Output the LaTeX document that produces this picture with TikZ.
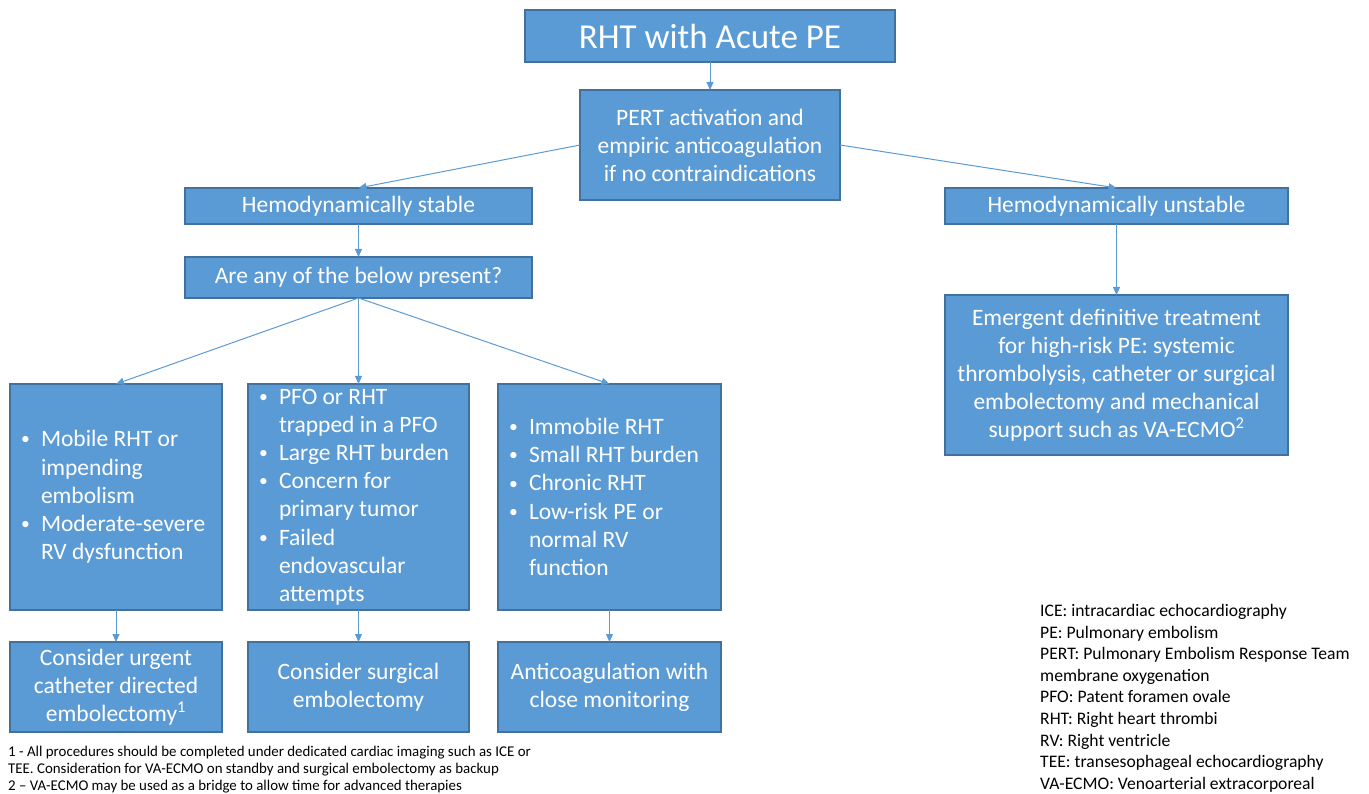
\documentclass[tikz,border=0pt]{standalone}
\usepackage{fontspec}
\setmainfont{Carlito}
\usepackage{tikz}
\usetikzlibrary{arrows.meta,positioning}
\definecolor{boxblue}{HTML}{5B9BD5}
\definecolor{boxedge}{HTML}{41719C}
\definecolor{darktext}{HTML}{000000}
\setlength{\parskip}{0pt}
% one bullet item with hanging indent
\newcommand{\bul}[1]{\spaceskip=0pt\relax\hangindent=20pt\hangafter=1\noindent
  \hbox to 20pt{\raisebox{0.08em}{\scalebox{0.75}{\textbullet}}\hfil}#1\par}
\tikzset{
  box/.style={draw=boxedge, fill=boxblue, line width=1.3pt, text=white,
              align=center, inner sep=3pt, outer sep=0pt,
              font=\fontsize{23.5}{28}\selectfont},
  titlebox/.style={box, minimum width=370pt, minimum height=52pt,
                   font=\fontsize{35}{40}\selectfont},
  wide/.style={box, minimum width=347pt, minimum height=#1},
  listbox/.style={box, align=flush left, text width=#1, inner xsep=11pt,
                  minimum height=226pt, font=\fontsize{23.5}{28.2}\selectfont},
  endbox/.style={box, minimum width=#1, minimum height=90pt},
  arrow/.style={-{Triangle[length=8pt,width=7pt]}, line width=1pt, draw=boxblue},
  notes/.style={align=left, inner sep=0pt, text=darktext}
}
\begin{document}
\begin{tikzpicture}[x=1pt, y=1pt]
  \useasboundingbox (0,0) rectangle (1369,-794);

  \node[titlebox] (top) at (710,-36) {RHT with Acute PE};
  \node[box, below=28pt of top, minimum width=260pt, minimum height=110pt] (pert)
       {PERT activation and\\empiric anticoagulation\\if no contraindications};

  \node[wide=36pt, below left=-12pt and 48pt of pert] (stable) {Hemodynamically stable};
  \node[box, minimum width=343pt, minimum height=36pt,
        below right=-12pt and 105pt of pert] (unstable) {Hemodynamically unstable};

  \node[wide=41pt, below=33pt of stable] (ask) {Are any of the below present?};
  \node[box, minimum width=343pt, minimum height=160pt, below=71pt of unstable] (emerg)
       {Emergent definitive treatment\\for high-risk PE: systemic\\thrombolysis, catheter or surgical\\embolectomy and mechanical\\support such as VA-ECMO\textsuperscript{2}};

  \node[listbox=199pt, below=86pt of ask] (mid)
       {\bul{PFO or RHT\newline trapped in a PFO}\bul{Large RHT burden}\bul{Concern for\newline primary tumor}\bul{Failed\newline endovascular\newline attempts}};
  \node[listbox=190pt, left=26pt of mid] (lft)
       {\bul{Mobile RHT or\newline impending\newline embolism}\bul{Moderate-severe\newline RV dysfunction}};
  \node[listbox=201pt, right=29pt of mid] (rgt)
       {\bul{Immobile RHT}\bul{Small RHT burden}\bul{Chronic RHT}\bul{Low-risk PE or\newline normal RV\newline function}};

  \node[endbox=212pt, below=32pt of lft] (cath) {Consider urgent\\catheter directed\\embolectomy\textsuperscript{1}};
  \node[endbox=221pt, below=32pt of mid] (surg) {Consider surgical\\embolectomy};
  \node[endbox=223pt, below=32pt of rgt] (antic) {Anticoagulation with\\close monitoring};

  \node[notes, anchor=north west, font=\fontsize{14.9}{16.8}\selectfont] (foot) at (8,-746)
       {1 - All procedures should be completed under dedicated cardiac imaging such as ICE or\\
        TEE. Consideration for VA-ECMO on standby and surgical embolectomy as backup\\
        2 -- VA-ECMO may be used as a bridge to allow time for advanced therapies};
  \node[notes, anchor=north west, font=\fontsize{17.6}{21.6}\selectfont] (abbr) at (1040,-604)
       {ICE: intracardiac echocardiography\\PE: Pulmonary embolism\\
        PERT: Pulmonary Embolism Response Team\\membrane oxygenation\\
        PFO: Patent foramen ovale\\RHT: Right heart thrombi\\RV: Right ventricle\\
        TEE: transesophageal echocardiography\\VA-ECMO: Venoarterial extracorporeal};

  \draw[arrow] (top) -- (pert);
  \draw[arrow] (pert.west) -- (stable.north);
  \draw[arrow] (pert.east) -- (unstable.north);
  \draw[arrow] (stable) -- (ask);
  \draw[arrow] (unstable) -- (emerg);
  \draw[arrow] (ask.south) -- (lft.north);
  \draw[arrow] (ask.south) -- (mid.north);
  \draw[arrow] (ask.south) -- (rgt.north);
  \draw[arrow] (lft) -- (cath);
  \draw[arrow] (mid) -- (surg);
  \draw[arrow] (rgt) -- (antic);
\end{tikzpicture}
\end{document}
